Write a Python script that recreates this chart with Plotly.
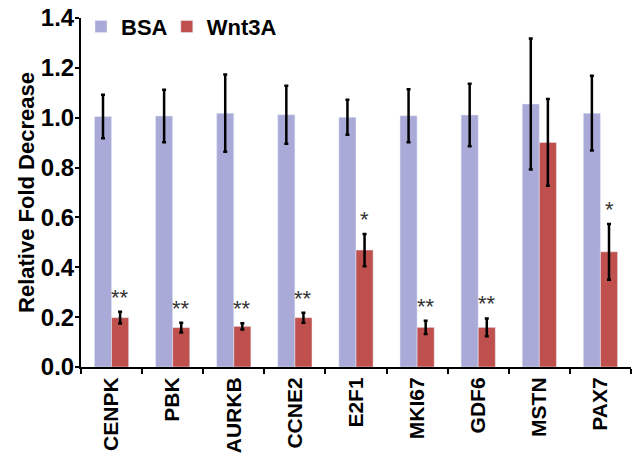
import plotly.graph_objects as go

genes = ["CENPK", "PBK", "AURKB", "CCNE2", "E2F1", "MKI67", "GDF6", "MSTN", "PAX7"]
bsa_values = [1.005, 1.007, 1.018, 1.012, 1.002, 1.008, 1.011, 1.055, 1.018]
bsa_errors = [0.087, 0.105, 0.155, 0.116, 0.070, 0.106, 0.125, 0.263, 0.150]
wnt_values = [0.198, 0.158, 0.163, 0.198, 0.469, 0.159, 0.159, 0.901, 0.462]
wnt_errors = [0.024, 0.020, 0.013, 0.020, 0.065, 0.027, 0.036, 0.174, 0.112]
significance = ["**", "**", "**", "**", "*", "**", "**", "", "*"]
y_ticks = [0, 0.2, 0.4, 0.6, 0.8, 1.0, 1.2, 1.4]

BSA_COLOR = "#aaaad8"
WNT_COLOR = "#c0504d"
BARGAP = 0.44
FONT = "Liberation Sans, Arial, sans-serif"

fig = go.Figure()
fig.add_trace(go.Bar(
    name="<b>BSA</b>", x=genes, y=bsa_values, marker_color=BSA_COLOR, legend="legend",
    error_y=dict(type="data", array=bsa_errors, color="black", thickness=2.5, width=2),
))
fig.add_trace(go.Bar(
    name="<b>Wnt3A</b>", x=genes, y=wnt_values, marker_color=WNT_COLOR, legend="legend2",
    error_y=dict(type="data", array=wnt_errors, color="black", thickness=2.5, width=2),
))

offset = (1 - BARGAP) / 4
for i, (v, e, s) in enumerate(zip(wnt_values, wnt_errors, significance)):
    if not s:
        continue
    fig.add_annotation(
        x=i + offset, y=v + e, xref="x", yref="y", text=s, showarrow=False,
        yanchor="bottom", yshift=0,
        font=dict(family=FONT, size=22, color="#333333"),
    )

legend_common = dict(
    orientation="h", xanchor="left", y=0.975, yanchor="middle",
    font=dict(family=FONT, size=22, color="black"),
    bgcolor="rgba(0,0,0,0)", itemwidth=30,
)

fig.update_layout(
    width=632, height=456,
    margin=dict(l=81, r=1, t=18, b=89),
    paper_bgcolor="white", plot_bgcolor="white",
    barmode="group", bargap=BARGAP, bargroupgap=0,
    font=dict(family=FONT, size=21, color="black"),
    showlegend=True,
    legend=dict(x=0.0, **legend_common),
    legend2=dict(x=0.156, **legend_common),
)
fig.update_xaxes(
    type="category", showline=True, linecolor="black", linewidth=2,
    ticks="outside", tickson="boundaries", ticklen=5, tickwidth=2, tickcolor="black",
    tickangle=-90, showgrid=False, automargin=False,
    tickvals=genes, ticktext=[f"<b>{g}</b>" for g in genes],
    tickfont=dict(family=FONT, size=21, color="black"),
)
fig.update_yaxes(
    range=[0, 1.4],
    tickvals=y_ticks, ticktext=[f"<b>{t:.1f}</b>" for t in y_ticks],
    showline=True, linecolor="black", linewidth=2,
    ticks="outside", ticklen=4, tickwidth=2, tickcolor="black",
    ticklabelstandoff=-4,
    showgrid=False, zeroline=False, automargin=False,
    tickfont=dict(family=FONT, size=24, color="black"),
    title=dict(text="<b>Relative Fold Decrease</b>",
               font=dict(family=FONT, size=22, color="black"), standoff=0),
)

fig.write_html("out.html")
